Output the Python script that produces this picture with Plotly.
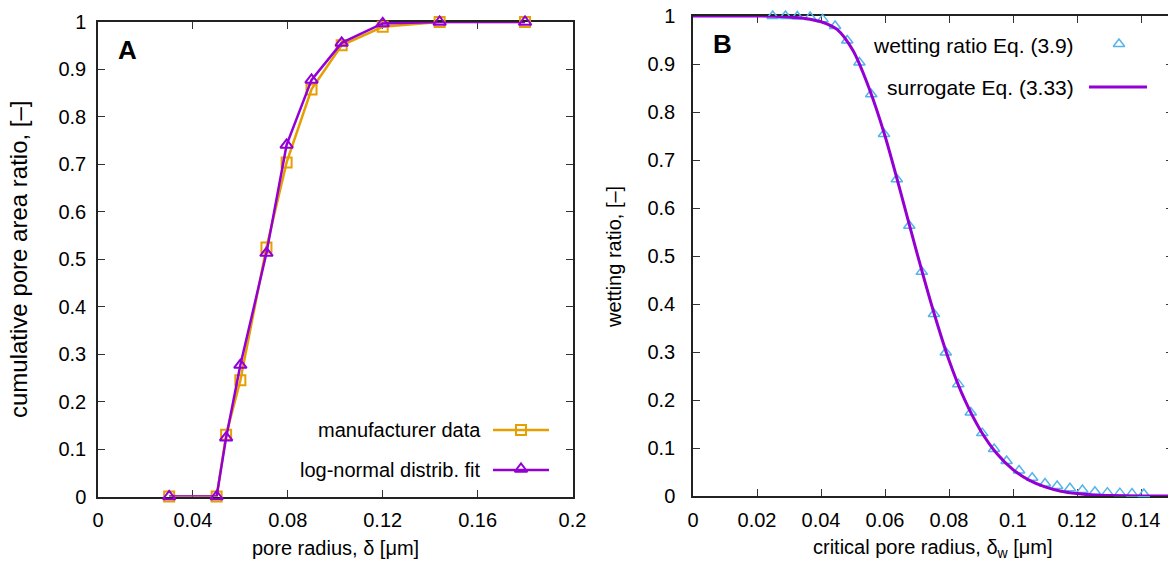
import plotly.graph_objects as go

# ---- Panel A: cumulative pore area ratio vs pore radius ----
pore_radius = [0.030, 0.050, 0.054, 0.060, 0.071, 0.0795, 0.090, 0.1027, 0.120, 0.144, 0.180]
manufacturer = [0.0, 0.0, 0.130, 0.245, 0.525, 0.704, 0.858, 0.951, 0.990, 1.0, 1.0]
lognormal_fit = [0.0, 0.0, 0.124, 0.277, 0.513, 0.741, 0.878, 0.956, 0.997, 1.0, 1.0]

# ---- Panel B: wetting ratio vs critical pore radius ----
critical_radius = [0.0249, 0.0289, 0.0326, 0.0366, 0.0405, 0.0444, 0.0482, 0.0520,
                   0.0557, 0.0597, 0.0637, 0.0676, 0.0715, 0.0753, 0.0790, 0.0829,
                   0.0868, 0.0904, 0.0941, 0.0980, 0.1019, 0.1060, 0.1100, 0.1138,
                   0.1178, 0.1217, 0.1256, 0.1295, 0.1334, 0.1372, 0.1409]
wetting_ratio = [1.0, 1.0, 0.999, 0.998, 0.993, 0.979, 0.949, 0.903,
                 0.837, 0.754, 0.660, 0.563, 0.467, 0.379, 0.299, 0.233,
                 0.174, 0.131, 0.098, 0.073, 0.053, 0.038, 0.026, 0.021,
                 0.016, 0.0125, 0.009, 0.007, 0.006, 0.005, 0.004]

surrogate_x = [0.0, 0.02, 0.025, 0.03, 0.035, 0.04, 0.045, 0.05, 0.055, 0.06, 0.065,
               0.07, 0.075, 0.08, 0.085, 0.09, 0.095, 0.10, 0.105, 0.11, 0.115,
               0.12, 0.125, 0.13, 0.14, 0.15]
surrogate_y = [1.0, 1.0, 0.9995, 0.998, 0.995, 0.988, 0.972, 0.928, 0.850, 0.750, 0.630,
               0.506, 0.388, 0.283, 0.199, 0.135, 0.088, 0.055, 0.033, 0.019, 0.010,
               0.005, 0.002, 0.001, 0.0, 0.0]

ticks_a_x = [0, 0.04, 0.08, 0.12, 0.16, 0.2]
ticks_b_x = [0, 0.02, 0.04, 0.06, 0.08, 0.1, 0.12, 0.14]
ticks_y = [0, 0.1, 0.2, 0.3, 0.4, 0.5, 0.6, 0.7, 0.8, 0.9, 1]

PURPLE = "#9400D3"
ORANGE = "#E69F00"
SKY = "#56B4E9"
FONT = "Liberation Sans, Arial, sans-serif"
FS = 20

W, H = 1176, 563


def px_dom_x(a, b):
    return [a / W, b / W]


def px_dom_y(top, bottom):
    return [(H - bottom) / H, (H - top) / H]


fig = go.Figure()

# Panel A curves
fig.add_trace(go.Scatter(
    x=pore_radius, y=manufacturer, mode="lines+markers", xaxis="x", yaxis="y",
    line=dict(color=ORANGE, width=2.5),
    marker=dict(symbol="square-open", size=10, color=ORANGE, line=dict(width=2, color=ORANGE)),
    cliponaxis=False, showlegend=False))
fig.add_trace(go.Scatter(
    x=pore_radius, y=lognormal_fit, mode="lines+markers", xaxis="x", yaxis="y",
    line=dict(color=PURPLE, width=2.5),
    marker=dict(symbol="triangle-up-open", size=11, color=PURPLE, line=dict(width=2, color=PURPLE)),
    cliponaxis=False, showlegend=False))

# Panel B curves
fig.add_trace(go.Scatter(
    x=critical_radius, y=wetting_ratio, mode="markers", xaxis="x2", yaxis="y2",
    marker=dict(symbol="triangle-up-open", size=10, color=SKY, line=dict(width=1.5, color=SKY)),
    cliponaxis=False, showlegend=False))
fig.add_trace(go.Scatter(
    x=surrogate_x, y=surrogate_y, mode="lines", xaxis="x2", yaxis="y2",
    line=dict(color=PURPLE, width=3, shape="spline", smoothing=0.8),
    showlegend=False))

# Legend keys, drawn on a pixel-unit overlay axis pair
fig.add_trace(go.Scatter(
    x=[493, 521, 549], y=[430, 430, 430], mode="lines", xaxis="x3", yaxis="y3",
    line=dict(color=ORANGE, width=2.5), showlegend=False, hoverinfo="skip"))
fig.add_trace(go.Scatter(
    x=[521], y=[430], mode="markers", xaxis="x3", yaxis="y3",
    marker=dict(symbol="square-open", size=10, color=ORANGE, line=dict(width=2, color=ORANGE)),
    showlegend=False, hoverinfo="skip"))
fig.add_trace(go.Scatter(
    x=[493, 521, 549], y=[470, 470, 470], mode="lines", xaxis="x3", yaxis="y3",
    line=dict(color=PURPLE, width=2.5), showlegend=False, hoverinfo="skip"))
fig.add_trace(go.Scatter(
    x=[521], y=[469], mode="markers", xaxis="x3", yaxis="y3",
    marker=dict(symbol="triangle-up-open", size=11, color=PURPLE, line=dict(width=2, color=PURPLE)),
    showlegend=False, hoverinfo="skip"))
fig.add_trace(go.Scatter(
    x=[1119], y=[44], mode="markers", xaxis="x3", yaxis="y3",
    marker=dict(symbol="triangle-up-open", size=10, color=SKY, line=dict(width=1.5, color=SKY)),
    showlegend=False, hoverinfo="skip"))
fig.add_trace(go.Scatter(
    x=[1089, 1147], y=[87, 87], mode="lines", xaxis="x3", yaxis="y3",
    line=dict(color=PURPLE, width=3), showlegend=False, hoverinfo="skip"))

axis_common = dict(
    showgrid=False, zeroline=False, showline=True, linecolor="#222", linewidth=1.5,
    mirror="allticks", ticks="inside", ticklen=7, tickwidth=1, tickcolor="#333",
    tickfont=dict(family=FONT, size=FS, color="#000"), automargin=False,
    layer="below traces",
)

fig.update_layout(
    width=W, height=H,
    margin=dict(l=0, r=0, t=0, b=0),
    paper_bgcolor="white", plot_bgcolor="rgba(0,0,0,0)",
    font=dict(family=FONT, size=FS, color="#000"),
    xaxis=dict(domain=px_dom_x(98, 572.5), range=[0, 0.2], tickvals=ticks_a_x,
               ticktext=["0", "0.04", "0.08", "0.12", "0.16", "0.2"],
               anchor="y", ticklabelstandoff=5, **axis_common),
    yaxis=dict(domain=px_dom_y(22, 496.5), range=[0, 1], tickvals=ticks_y,
               ticktext=[f"{v:g}" for v in ticks_y],
               anchor="x", ticklabelstandoff=6, **axis_common),
    xaxis2=dict(domain=px_dom_x(693, 1173), range=[0, 0.15], tickvals=ticks_b_x,
                ticktext=[f"{v:g}" for v in ticks_b_x],
                anchor="y2", ticklabelstandoff=5, **axis_common),
    yaxis2=dict(domain=px_dom_y(16, 496), range=[0, 1], tickvals=ticks_y,
                ticktext=[f"{v:g}" for v in ticks_y],
                anchor="x2", ticklabelstandoff=12, **axis_common),
    xaxis3=dict(domain=[0, 1], range=[0, W], visible=False, fixedrange=True, anchor="y3"),
    yaxis3=dict(domain=[0, 1], range=[H, 0], visible=False, fixedrange=True, anchor="x3"),
)

ann = []


def label(x, y, text, size=FS, xanchor="center", bold=False, angle=0):
    ann.append(dict(
        x=x, y=y, xref="x3", yref="y3", text=f"<b>{text}</b>" if bold else text,
        showarrow=False, xanchor=xanchor, yanchor="middle", textangle=angle,
        font=dict(family=FONT, size=size, color="#000")))


# Axis titles
label(335, 548, "pore radius, δ [μm]")
label(18, 259, "cumulative pore area ratio, [–]", size=24, angle=-90)
label(933, 548, "critical pore radius, δ<sub>w</sub> [μm]")
label(614, 257, "wetting ratio, [–]", angle=-90)

# Panel tags
label(127, 50, "A", size=26, bold=True)
label(722, 44, "B", size=26, bold=True)

# Legend texts
label(483, 430, "manufacturer data", xanchor="right")
label(483, 470, "log-normal distrib. fit", xanchor="right")
label(1076, 45, "wetting ratio Eq. (3.9)", size=21, xanchor="right")
label(1076, 87, "surrogate Eq. (3.33)", size=21, xanchor="right")

fig.update_layout(annotations=ann)

fig.write_html(
    "out.html",
    post_script="document.documentElement.style.overflow='hidden';"
                "document.body.style.overflow='hidden';document.body.style.margin='0';",
)
